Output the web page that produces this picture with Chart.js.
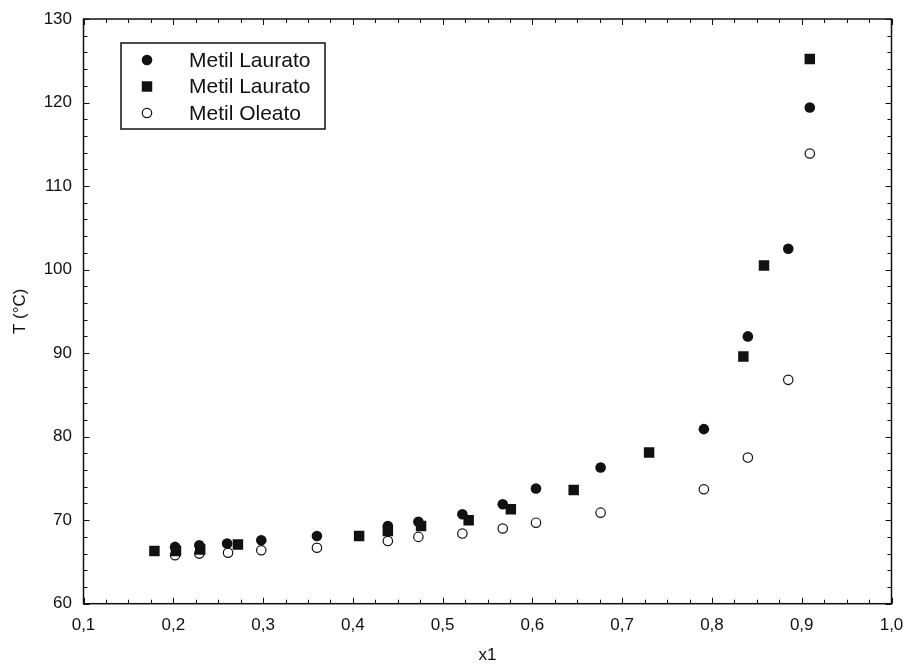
<!DOCTYPE html>
<html>
<head>
<meta charset="utf-8">
<script src="https://cdn.jsdelivr.net/npm/chart.js@4.4.0/dist/chart.umd.min.js"></script>
<style>
html, body { margin: 0; padding: 0; background: #fff; }
#wrap { width: 909px; height: 668px; }
</style>
</head>
<body>
<div id="wrap"><canvas id="chart" width="909" height="668"></canvas></div>
<script>
// data
var seriesNames = ['Metil Laurato', 'Metil Laurato', 'Metil Oleato'];

var x1Laurato1 = [0.202, 0.229, 0.260, 0.298, 0.360, 0.439, 0.473, 0.522, 0.567, 0.604, 0.676, 0.791, 0.840, 0.885, 0.909];
var tLaurato1  = [66.8, 67.0, 67.2, 67.6, 68.1, 69.3, 69.8, 70.7, 71.9, 73.8, 76.3, 80.9, 92.0, 102.5, 119.4];

var x1Laurato2 = [0.179, 0.203, 0.230, 0.272, 0.407, 0.439, 0.476, 0.529, 0.576, 0.646, 0.730, 0.835, 0.858, 0.909];
var tLaurato2  = [66.3, 66.3, 66.5, 67.1, 68.1, 68.7, 69.3, 70.0, 71.3, 73.6, 78.1, 89.6, 100.5, 125.2];

var x1Oleato = [0.202, 0.229, 0.261, 0.298, 0.360, 0.439, 0.473, 0.522, 0.567, 0.604, 0.676, 0.791, 0.840, 0.885, 0.909];
var tOleato  = [65.8, 66.0, 66.1, 66.4, 66.7, 67.5, 68.0, 68.4, 69.0, 69.7, 70.9, 73.7, 77.5, 86.8, 113.9];

var xTicks = [0.1, 0.2, 0.3, 0.4, 0.5, 0.6, 0.7, 0.8, 0.9, 1.0];
var yTicks = [60, 70, 80, 90, 100, 110, 120, 130];

function pts(xs, ys) {
    var out = [];
    for (var i = 0; i < xs.length; ++i) {
        out.push({x: xs[i], y: ys[i]});
    }
    return out;
}

var FONT = '"Liberation Sans", Arial, sans-serif';
var INK = '#111';

// box round the plot with inward ticks on all four sides, plus the legend
var framePlugin = {
    id: 'frame',
    afterDraw: function (chart) {
        var ctx = chart.ctx;
        var a = chart.chartArea;
        var xs = chart.scales.x, ys = chart.scales.y;
        ctx.save();
        ctx.strokeStyle = INK;
        ctx.lineWidth = 1.5;
        ctx.strokeRect(a.left, a.top, a.right - a.left, a.bottom - a.top);

        ctx.lineWidth = 1;
        ctx.beginPath();
        // x: minor every 0.025
        var xmin = xTicks[0], xmax = xTicks[xTicks.length - 1];
        var nx = Math.round((xmax - xmin) / 0.025);
        for (var i = 0; i <= nx; ++i) {
            var px = Math.round(xs.getPixelForValue(xmin + i * 0.025)) + 0.5;
            var len = (i % 4 === 0) ? 6 : 4;
            ctx.moveTo(px, a.bottom); ctx.lineTo(px, a.bottom - len);
            ctx.moveTo(px, a.top); ctx.lineTo(px, a.top + len);
        }
        // y: minor every 2
        var ymin = yTicks[0], ymax = yTicks[yTicks.length - 1];
        for (var v = ymin; v <= ymax; v += 2) {
            var py = Math.round(ys.getPixelForValue(v)) + 0.5;
            var l = (v % 10 === 0) ? 6 : 4;
            ctx.moveTo(a.left, py); ctx.lineTo(a.left + l, py);
            ctx.moveTo(a.right, py); ctx.lineTo(a.right - l, py);
        }
        ctx.stroke();

        // legend
        var bx = 121, by = 43, bw = 204, bh = 86;
        ctx.fillStyle = '#fff';
        ctx.fillRect(bx, by, bw, bh);
        ctx.lineWidth = 1.5;
        ctx.strokeStyle = INK;
        ctx.strokeRect(bx, by, bw, bh);
        ctx.font = '21px ' + FONT;
        ctx.textBaseline = 'middle';
        ctx.textAlign = 'left';
        var rowY = [60, 86.5, 113];
        chart.data.datasets.forEach(function (ds, k) {
            var y = rowY[k];
            ctx.fillStyle = ds.backgroundColor;
            ctx.strokeStyle = ds.borderColor;
            ctx.lineWidth = ds.borderWidth;
            Chart.helpers.drawPoint(ctx, {
                pointStyle: ds.pointStyle,
                radius: ds.pointRadius,
                borderWidth: ds.borderWidth,
                rotation: 0
            }, 147, y);
            ctx.fillStyle = INK;
            ctx.fillText(ds.label, 189, y + 1);
        });
        ctx.restore();
    }
};

var ctx = document.getElementById('chart');
var chart = new Chart(ctx, {
    type: 'scatter',
    data: {
        datasets: [{
            label: seriesNames[0],
            data: pts(x1Laurato1, tLaurato1),
            pointStyle: 'circle',
            pointRadius: 5.3,
            backgroundColor: INK,
            borderColor: INK,
            borderWidth: 0
        }, {
            label: seriesNames[1],
            data: pts(x1Laurato2, tLaurato2),
            pointStyle: 'rect',
            pointRadius: 7.4,
            backgroundColor: INK,
            borderColor: INK,
            borderWidth: 0
        }, {
            label: seriesNames[2],
            data: pts(x1Oleato, tOleato),
            pointStyle: 'circle',
            pointRadius: 4.7,
            backgroundColor: '#fff',
            borderColor: INK,
            borderWidth: 1.2
        }]
    },
    options: {
        responsive: false,
        animation: false,
        layout: { padding: { left: 0, top: 19, right: 17.5, bottom: 0 } },
        plugins: {
            legend: { display: false },
            tooltip: { enabled: false }
        },
        scales: {
            x: {
                type: 'linear',
                min: 0.1,
                max: 1.0,
                grid: { display: false, drawTicks: false },
                border: { display: false },
                afterBuildTicks: function (s) {
                    s.ticks = xTicks.map(function (v) { return {value: v}; });
                },
                ticks: {
                    color: INK,
                    font: { family: FONT, size: 17 },
                    padding: 11,
                    maxRotation: 0,
                    autoSkip: false,
                    callback: function (v) { return v.toFixed(1).replace('.', ','); }
                },
                title: {
                    display: true,
                    text: 'x1',
                    color: INK,
                    font: { family: FONT, size: 17 },
                    padding: { top: 0, bottom: 2 }
                },
                afterFit: function (s) {
                    s.height = 64.3;
                    s.paddingLeft = 0;
                    s.paddingRight = 0;
                }
            },
            y: {
                type: 'linear',
                min: 60,
                max: 130,
                grid: { display: false, drawTicks: false },
                border: { display: false },
                afterBuildTicks: function (s) {
                    s.ticks = yTicks.map(function (v) { return {value: v}; });
                },
                ticks: {
                    color: INK,
                    font: { family: FONT, size: 17 },
                    padding: 11.5,
                    autoSkip: false
                },
                title: {
                    display: true,
                    text: 'T (°C)',
                    color: INK,
                    font: { family: FONT, size: 17 },
                    padding: { top: 10, bottom: 0 }
                },
                afterFit: function (s) {
                    s.width = 83.5;
                    s.paddingTop = 0;
                    s.paddingBottom = 0;
                }
            }
        }
    },
    plugins: [framePlugin]
});
</script>
</body>
</html>
